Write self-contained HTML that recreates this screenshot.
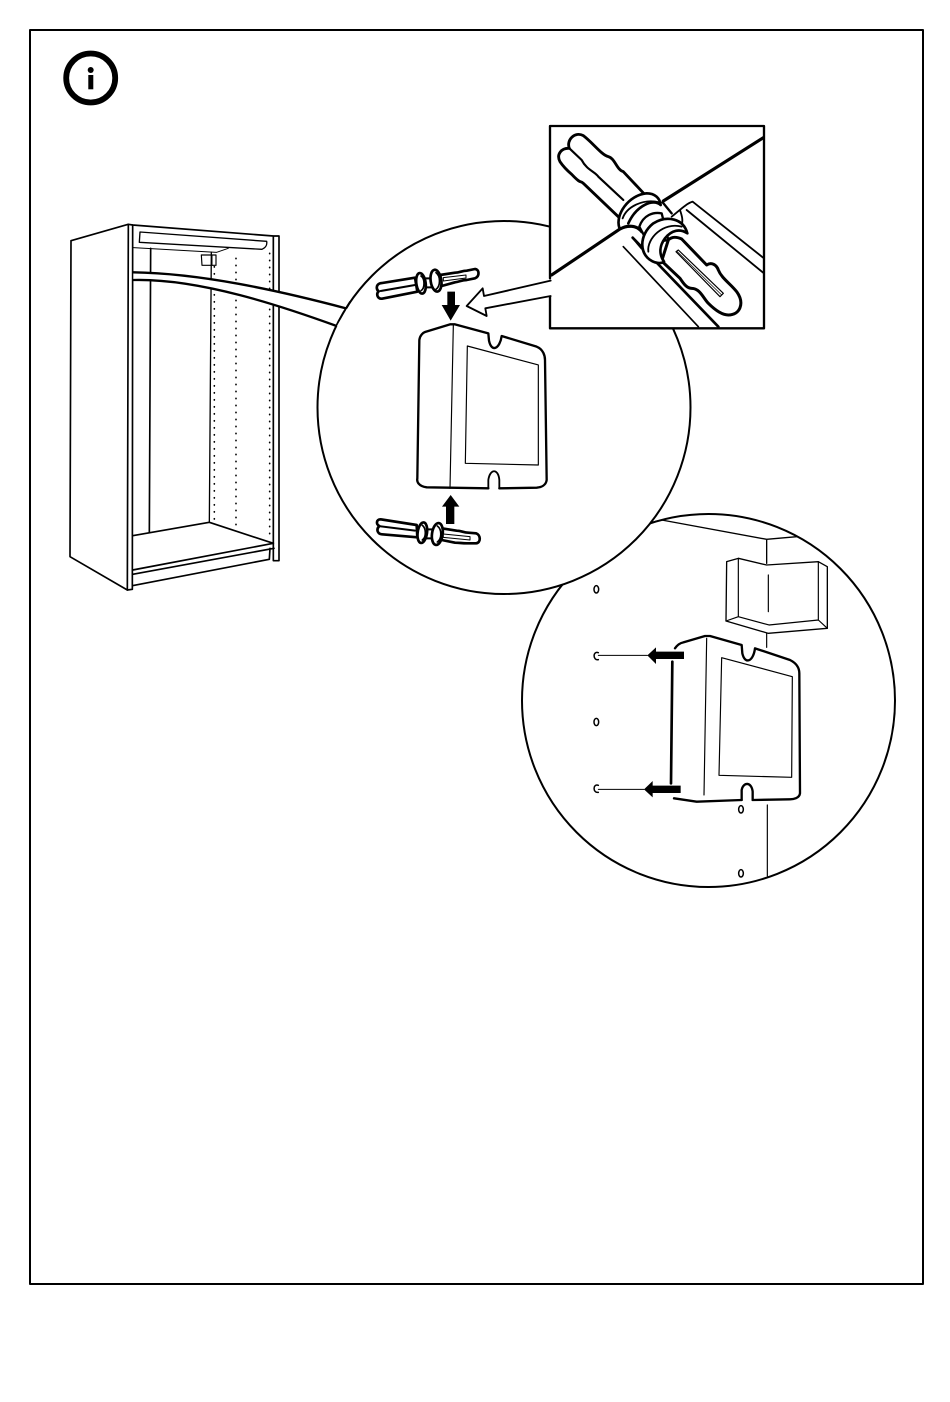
<!DOCTYPE html>
<html><head><meta charset="utf-8"><style>html,body{margin:0;padding:0;background:#fff}svg{display:block}</style></head>
<body>
<svg width="950" height="1402" viewBox="0 0 950 1402" xmlns="http://www.w3.org/2000/svg" fill="none" stroke="#000" stroke-linejoin="round" stroke-linecap="round">
<rect x="30" y="30" width="893" height="1254" stroke-width="2"/>
<circle cx="90.7" cy="78" r="24.5" stroke-width="5.800"/>
<circle cx="90.7" cy="70" r="3" fill="#000" stroke="none"/>
<rect x="88.3" y="75" width="5" height="14.3" fill="#000" stroke="none"/>

<!-- cabinet -->
<g transform="translate(50,210) scale(.33333)" stroke-width="5">
<path d="M235 43L63 92L60 1040L232 1140"/>
<path d="M235 43L248 45L670 78L687 78L687 1052L670 1052L670 78"/>
<path d="M235 43L232 1140L247 1138L248 45" />
<path d="M270 66L650 94C652 105 648 112 636 118L268 97Z" stroke-width="4"/>
<path d="M250 113L500 127L535 115" stroke-width="3"/>
<path d="M302 115L298 968" stroke-width="5"/>
<path d="M484 127L478 937" stroke-width="4"/>
<path d="M454 135H498V166H456Z" stroke-width="3.5"/>
<path d="M486 135V166" stroke-width="3"/>
<path d="M493 170V930M558 145V950M659 130V985" stroke-width="5" stroke-dasharray="1 20"/>
<path d="M248 977L478 937L670 1000L248 1080" />
<path d="M248 1093L672 1015M247 1127L658 1048M658 1048L660 1015" />
<path d="M250 187C450 190 680 240 888 295C893 295 896 285 900 270V350H860C700 290 450 205 250 210Z" fill="#fff" stroke="none"/>
<path d="M250 187C450 190 680 240 888 295" stroke-width="7"/>
<path d="M250 210C450 205 700 290 860 348" stroke-width="7"/>
</g>

<!-- circle 2 -->
<circle cx="708.5" cy="700.5" r="186.5" fill="#fff" stroke-width="2"/>
<g transform="translate(570,510) scale(.33333)">
<path d="M242 38L275 30L590 88L680 80M590 88V160" stroke-width="4"/>
<path d="M470 155L505 145L590 165L745 155L772 170L772 355L595 370L468 333Z" stroke-width="4"/>
<path d="M505 145L505 320L597 345L745 330V155M505 320L468 333M745 330L772 355M595 195V305M590 370V412M592 885V1098" stroke-width="3.5"/>
<g stroke-width="4.500">
<ellipse cx="79" cy="238" rx="7" ry="11"/><ellipse cx="79" cy="636" rx="7" ry="11"/>
<ellipse cx="513" cy="898" rx="7" ry="11"/><ellipse cx="513" cy="1090" rx="7" ry="11"/>
<path d="M85 428C68 422 68 452 85 449M85 826C68 820 68 850 85 847"/>
</g>
<path d="M85 436H232M85 838H222" stroke-width="3"/>
<path d="M232 436L258 412V425H342V447H258V462ZM222 838L248 813V827H332V849H248V862Z" fill="#000" stroke="none"/>
<path d="M315 415C325 400 335 398 340 397L405 378H420L515 405L517 430C525 465 550 455 555 415L660 450C680 460 688 475 688 490L690 850C688 865 670 868 660 868L548 870M515 870L380 875L312 865" stroke-width="7"/>
<path d="M307 455L303 820" stroke-width="8"/>
<path d="M515 870V840C520 815 545 815 548 845V870" stroke-width="7"/>
<path d="M410 385L402 855M455 443L667 500L665 802L447 796Z" stroke-width="3.500"/>
</g>

<!-- circle 1 -->
<circle cx="504" cy="407.500" r="186.500" fill="#fff" stroke-width="2"/>
<path d="M347 308C345 314 340 320 337 326L345 330L352 310Z" fill="#fff" stroke="none"/>
<path d="M346.500 308L350 302" stroke-width="2"/>
<g transform="translate(360,250) scale(.33333)">
<!-- top plug -->
<g stroke-width="8" fill="#fff">
<path d="M165 83L60 100C48 104 48 118 56 124C48 132 52 147 66 146L172 125Z"/>
<path d="M62 123L165 105" stroke-width="6" fill="none"/>
<path d="M195 85H215V112H195Z" stroke-width="6"/>
<ellipse cx="183" cy="100" rx="14" ry="31" transform="rotate(-8 183 100)"/>
<path d="M183 78C195 85 195 115 183 122" stroke-width="5" fill="none"/>
<path d="M240 75L285 68C300 68 305 62 320 62L345 57C358 58 360 78 345 85L320 90C305 90 300 95 285 97L245 108Z"/>
<ellipse cx="228" cy="92" rx="16" ry="33" transform="rotate(-8 228 92)"/>
<path d="M228 68C242 78 242 108 228 118" stroke-width="5" fill="none"/>
<path d="M250 83L318 75V84L250 93Z" stroke-width="3"/>
<!-- bottom plug -->
<path d="M170 825L62 808C48 808 48 824 58 828C48 838 52 852 66 853L172 862Z"/>
<path d="M62 829L165 842" stroke-width="6" fill="none"/>
<path d="M198 838H218V865H198Z" stroke-width="6"/>
<ellipse cx="187" cy="848" rx="14" ry="31" transform="rotate(8 187 848)"/>
<path d="M187 826C199 835 199 862 187 870" stroke-width="5" fill="none"/>
<path d="M245 835L290 842C305 842 310 848 325 848L348 850C362 854 364 878 348 880L320 880C305 880 300 878 285 878L245 870Z"/>
<ellipse cx="232" cy="852" rx="16" ry="33" transform="rotate(8 232 852)"/>
<path d="M232 828C246 838 246 866 232 876" stroke-width="5" fill="none"/>
<path d="M250 852L330 860V870L250 862Z" stroke-width="3"/>
</g>
<path d="M262 125H285V165H300L272 212L245 165H262ZM272 735L298 770H283V822H258V770H246Z" fill="#000" stroke="none"/>
<path d="M172 685L178 270C180 255 190 248 195 246L270 223H285L385 250L387 272C395 310 420 295 425 258L530 290C550 298 555 318 555 330L560 690C558 705 545 712 530 713L418 715M385 715L200 712C175 708 170 695 172 685" stroke-width="7"/>
<path d="M385 715V690C390 655 415 655 418 690V715" stroke-width="5.500"/>
<path d="M280 225L270 715M322 288L535 345V645L316 640Z" stroke-width="3.500"/>
</g>

<!-- detail box -->
<g transform="translate(540,115) scale(.33333)">
<path d="M30 33H672V640H30Z" fill="#fff" stroke="none"/>
<path d="M30 490V33H672V640H30V545" stroke-width="7"/>
<path d="M250 395L475 635" stroke-width="5"/>
<path d="M278 368L535 635" stroke-width="8"/>
<path d="M395 305C420 285 440 265 458 260L672 430M440 285L672 475M420 285C425 300 430 315 425 330" stroke-width="5.500"/>
<path d="M35 480L240 342C262 330 290 330 305 350M370 258L670 68" stroke-width="9.500"/>
<path d="M238 308L130 205C120 195 125 210 95 178C80 165 70 155 60 140C48 118 65 98 88 100C78 75 105 48 130 62C160 85 185 120 205 125C225 130 230 165 250 170L312 236" fill="#fff" stroke-width="8.500"/>
<path d="M88 100L125 135C140 165 165 170 175 185L250 255" stroke-width="6.500"/>
<path d="M238 338C225 300 265 240 320 235C345 235 360 250 362 270C340 250 290 270 265 325" fill="#fff" stroke-width="8"/>
<path d="M248 310C260 275 310 250 358 262" stroke-width="5.500"/>
<path d="M298 335C310 300 340 290 365 295L385 375L325 385Z" fill="#fff" stroke-width="7"/>
<path d="M368 262L395 295M278 368L305 400" stroke-width="7"/>
<path d="M385 375C395 365 410 365 425 372L500 450C515 440 530 450 535 465C545 490 570 505 590 530C615 565 600 600 565 600C545 600 525 585 505 565C490 550 480 520 455 520C440 520 430 505 420 490L365 438Z" fill="#fff" stroke-width="9"/>
<path d="M345 442C295 425 295 360 340 325C380 300 430 310 442 355C420 340 395 345 375 370C360 390 355 415 372 440C365 445 355 445 345 442Z" fill="#fff" stroke-width="8"/>
<path d="M325 410C320 370 370 320 425 335" stroke-width="5.500"/>
<path d="M408 410L415 405L550 535L540 545Z" stroke-width="3.500" fill="#fff"/>
<path d="M411 409L545 540" stroke-width="2"/>
</g>

<!-- big arrow -->
<g transform="translate(360,250) scale(.33333)">
<path d="M576 92L372 138L368 115L320 168L380 198L376 175L576 138Z" fill="#fff" stroke="none"/>
<path d="M572 92L372 138L368 115L320 168L380 198L376 175L572 138" stroke-width="5.500"/>
</g>
</svg>
</body></html>
